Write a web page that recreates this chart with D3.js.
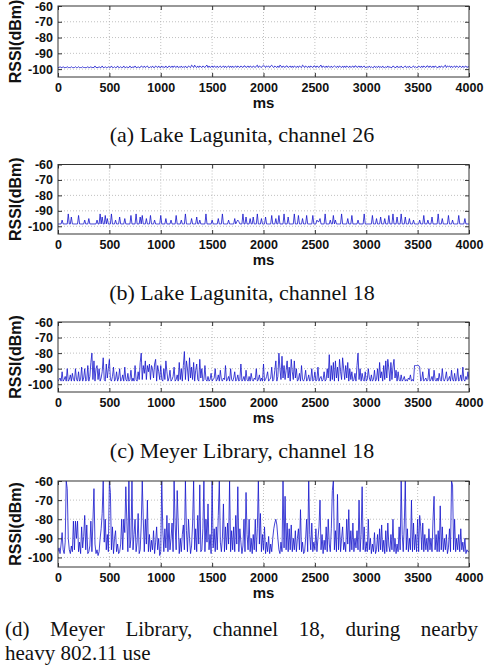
<!DOCTYPE html>
<html><head><meta charset="utf-8">
<script src="https://cdn.jsdelivr.net/npm/d3@7"></script>
<style>body{margin:0;background:#fff}svg{display:block}</style>
</head><body>
<svg id="c" width="484" height="668"></svg>
<script>
// ---- data (RSSI in dBm, one sample every 10 ms, 0..4000 ms) ----
const xTicks = [0,500,1000,1500,2000,2500,3000,3500,4000];
const yTicks = [-100,-90,-80,-70,-60];
const captions = ["(a) Lake Lagunita, channel 26","(b) Lake Lagunita, channel 18","(c) Meyer Library, channel 18","(d) Meyer Library, channel 18, during nearby heavy 802.11 use"];

const rssiA = [
-99,-99,-98.5,-99,-99,-98.5,-99,-99,-99,-98.5,
-99,-99,-99,-98.5,-99,-99,-99,-98.5,-99,-99,
-98.5,-99,-99,-99,-98.5,-99,-99,-99,-99,-98.5,
-99,-99,-98.5,-99,-99,-99,-98,-99,-99,-99,
-98.5,-99,-99,-98,-99,-99,-98.5,-99,-99,-98.5,
-99,-99,-98,-99,-99,-98.5,-99,-99,-98,-99,
-99,-98.5,-99,-99,-98,-99,-99,-98.5,-99,-99,
-98,-99,-99,-98.5,-99,-98,-99,-99,-98.5,-99,
-99,-98,-98.5,-99,-98,-99,-98.5,-98,-99,-99,
-98.5,-99,-98,-99,-99,-98,-98.5,-99,-98,-99,
-99,-98,-99,-98.5,-99,-98,-99,-99,-98,-98.5,
-99,-98,-99,-98,-98.5,-99,-98,-99,-98.5,-99,
-98,-99,-98.5,-99,-98,-99,-99,-98,-98.5,-99,
-97.5,-98,-99,-97.5,-98.5,-99,-98,-99,-98,-98.5,
-99,-98,-98.5,-99,-98,-97.5,-99,-98,-99,-98.5,
-98,-99,-98,-98.5,-99,-98,-99,-98.5,-98,-99,
-98.5,-98,-99,-98,-99,-98.5,-98,-99,-98,-99,
-98,-99,-98.5,-98,-99,-98,-98.5,-99,-98,-98.5,
-99,-98,-98,-99,-98.5,-98,-99,-98,-98.5,-99,
-98,-98.5,-99,-98,-97.5,-99,-98,-98.5,-99,-98,
-97.5,-98,-99,-98,-98.5,-98,-99,-98,-97.5,-98.5,
-99,-98,-98.5,-99,-98,-99,-97.5,-98,-99,-98,
-98.5,-99,-98,-98,-99,-98.5,-98,-99,-98,-99,
-98,-98.5,-99,-98,-99,-98,-98.5,-99,-97.5,-98,
-99,-98,-98.5,-99,-98,-99,-98,-98.5,-99,-98,
-98,-99,-98,-98.5,-99,-98,-97.5,-99,-98,-98.5,
-99,-98,-99,-98,-98.5,-99,-98,-99,-98.5,-98,
-98.5,-99,-98,-99,-98,-98.5,-99,-98,-99,-98,
-99,-98,-98.5,-99,-98,-99,-98.5,-98,-99,-98,
-98,-99,-98.5,-98,-99,-98,-99,-98.5,-98,-99,
-99,-98.5,-99,-98,-99,-98.5,-99,-99,-98,-99,
-98.5,-99,-98,-99,-98.5,-99,-98,-99,-99,-98.5,
-99,-98,-99,-98.5,-99,-99,-98,-98.5,-99,-99,
-98,-99,-98.5,-99,-98,-99,-99,-98.5,-98,-99,
-98.5,-99,-98,-99,-99,-98.5,-98,-99,-98.5,-99,
-99,-98,-98.5,-99,-98,-99,-98,-98.5,-99,-98,
-98,-99,-98,-98.5,-99,-98,-99,-98,-98.5,-99,
-99,-98,-99,-98,-98.5,-99,-98,-97.5,-99,-98,
-98.5,-98,-99,-98,-99,-98.5,-98,-99,-98,-98.5,
-99,-98,-98.5,-99,-98,-99,-98.5,-98,-99,-98.5,
-98.5];

const rssiB = [
-98.5,-98.5,-98.5,-98.5,-96,-98.5,-98.5,-98.5,-98.5,-98.5,
-92,-98.5,-98.5,-94,-98.5,-98.5,-98.5,-98.5,-98.5,-98.5,
-93,-98.5,-98.5,-98.5,-98.5,-98.5,-96,-98.5,-98.5,-98.5,
-95,-98.5,-98.5,-98.5,-98.5,-98.5,-98.5,-98.5,-96,-98.5,
-98.5,-92,-98.5,-94,-98.5,-98.5,-93,-98.5,-95,-98.5,
-98.5,-98.5,-92,-98.5,-98.5,-98.5,-96,-98.5,-98.5,-98.5,
-94,-98.5,-98.5,-98.5,-98.5,-95,-98.5,-98.5,-98.5,-98.5,
-98.5,-93,-98.5,-98.5,-98.5,-98.5,-92,-98.5,-98.5,-98.5,
-94,-98.5,-93,-98.5,-98.5,-98.5,-95,-98.5,-98.5,-98.5,
-93,-98.5,-98.5,-98.5,-96,-98.5,-98.5,-98.5,-98.5,-98.5,
-93,-98.5,-98.5,-98.5,-98.5,-95,-98.5,-98.5,-98.5,-98.5,
-96,-98.5,-98.5,-98.5,-98.5,-93,-98.5,-98.5,-98.5,-98.5,
-96,-98.5,-98.5,-98.5,-92,-98.5,-98.5,-98.5,-98.5,-98.5,
-95,-98.5,-98.5,-98.5,-98.5,-94,-98.5,-98.5,-96,-98.5,
-98.5,-98.5,-98.5,-98.5,-92,-98.5,-98.5,-98.5,-98.5,-98.5,
-96,-98.5,-98.5,-98.5,-98.5,-98.5,-95,-98.5,-98.5,-98.5,
-92,-98.5,-98.5,-98.5,-98.5,-98.5,-96,-98.5,-98.5,-98.5,
-98.5,-98.5,-95,-98.5,-97,-96,-97,-98.5,-98.5,-98.5,
-92,-98.5,-98.5,-94,-98.5,-98.5,-98.5,-95,-98.5,-98.5,
-94,-98.5,-98.5,-98.5,-92,-98.5,-98.5,-98.5,-95,-98.5,
-98.5,-98.5,-94,-98.5,-98.5,-98.5,-98.5,-98.5,-93,-98.5,
-98.5,-98.5,-95,-98.5,-98.5,-93,-98.5,-98.5,-98.5,-98.5,
-92,-98.5,-98.5,-98.5,-94,-98.5,-98.5,-98.5,-98.5,-98.5,
-92,-98.5,-98.5,-98.5,-93,-98.5,-98.5,-98.5,-95,-98.5,
-98.5,-98.5,-93,-98.5,-98.5,-98.5,-98.5,-98.5,-93,-98.5,
-98.5,-98.5,-96,-97,-97,-95,-98.5,-98.5,-98.5,-98.5,
-92,-98.5,-98.5,-98.5,-98.5,-96,-98.5,-98.5,-93,-98.5,
-96,-98.5,-98.5,-98.5,-98.5,-98.5,-92,-98.5,-98.5,-98.5,
-98.5,-98.5,-95,-98.5,-98.5,-98.5,-93,-98.5,-98.5,-98.5,
-98.5,-98.5,-96,-98.5,-98.5,-98.5,-98.5,-98.5,-92,-98.5,
-98.5,-98.5,-98.5,-98.5,-98.5,-98.5,-93,-98.5,-98.5,-98.5,
-95,-98.5,-98.5,-98.5,-94,-98.5,-98.5,-98.5,-95,-98.5,
-98.5,-98.5,-93,-98.5,-98.5,-98.5,-92,-98.5,-98.5,-98.5,
-94,-98.5,-98.5,-98.5,-92,-98.5,-98.5,-98.5,-94,-98.5,
-98.5,-98.5,-95,-98.5,-98.5,-98.5,-96,-98.5,-98.5,-98.5,
-98.5,-98.5,-96,-98.5,-98.5,-98.5,-93,-98.5,-98.5,-98.5,
-96,-98.5,-98.5,-98.5,-94,-98.5,-98.5,-98.5,-98.5,-98.5,
-92,-98.5,-98.5,-98.5,-95,-98.5,-98.5,-98.5,-98.5,-98.5,
-93,-98.5,-98.5,-98.5,-96,-98.5,-98.5,-98.5,-98.5,-98.5,
-93,-98.5,-98.5,-98.5,-98.5,-98.5,-95,-98.5,-98.5,-98.5,
-98.5];

const rssiC = [
-98,-97,-96,-98,-92,-98,-97,-95,-98,-90,
-98,-97,-94,-98,-93,-97,-98,-90,-97,-98,
-92,-98,-97,-89,-98,-96,-90,-98,-97,-88,
-98,-95,-86,-80,-97,-85,-98,-90,-88,-97,
-90,-98,-96,-92,-83,-97,-98,-87,-96,-90,
-84,-97,-98,-95,-89,-98,-97,-92,-98,-96,
-90,-98,-97,-94,-98,-89,-97,-98,-93,-98,
-97,-91,-98,-96,-98,-88,-97,-98,-92,-97,
-86,-80,-97,-88,-93,-85,-97,-88,-92,-87,
-97,-88,-90,-96,-87,-84,-98,-88,-92,-97,
-88,-97,-98,-90,-97,-85,-92,-98,-96,-91,
-98,-97,-95,-89,-98,-97,-94,-98,-86,-97,
-90,-98,-88,-79,-97,-85,-90,-98,-83,-96,
-89,-97,-86,-98,-91,-87,-97,-98,-84,-96,
-90,-98,-97,-88,-97,-98,-95,-98,-97,-93,
-98,-97,-96,-90,-98,-97,-94,-98,-91,-97,
-98,-96,-97,-88,-98,-97,-95,-98,-90,-97,
-98,-96,-92,-98,-97,-94,-98,-97,-87,-98,
-97,-95,-98,-91,-97,-98,-95,-98,-93,-97,
-98,-96,-97,-90,-98,-97,-94,-98,-96,-98,
-87,-98,-97,-95,-92,-98,-97,-96,-89,-98,
-97,-91,-85,-98,-95,-80,-90,-97,-82,-96,
-88,-97,-91,-85,-96,-89,-98,-84,-92,-97,
-85,-96,-90,-98,-97,-93,-98,-88,-97,-98,
-96,-91,-98,-97,-94,-98,-97,-90,-98,-97,
-92,-98,-97,-89,-98,-96,-95,-98,-97,-92,
-98,-97,-90,-96,-81,-98,-88,-97,-86,-98,
-85,-96,-89,-98,-84,-92,-97,-83,-90,-97,
-88,-96,-86,-98,-90,-97,-92,-98,-97,-93,
-98,-88,-80,-97,-90,-98,-93,-97,-98,-92,
-98,-97,-90,-96,-98,-94,-98,-97,-91,-98,
-97,-90,-98,-86,-96,-92,-98,-88,-97,-85,
-96,-84,-90,-98,-86,-97,-89,-84,-96,-91,
-98,-92,-97,-98,-94,-98,-97,-95,-98,-97,
-98,-96,-97,-94,-98,-97,-98,-88,-88,-88,
-88,-88,-89,-98,-97,-92,-98,-97,-96,-98,
-97,-90,-98,-97,-95,-98,-91,-97,-98,-96,
-98,-93,-97,-98,-90,-97,-98,-96,-92,-98,
-97,-95,-98,-91,-97,-98,-93,-98,-97,-90,
-98,-97,-94,-98,-89,-97,-98,-95,-97,-92,
-97];

const rssiD = [
-97,-95,-98,-93,-87,-96,-98,-92,-60,-64,
-90,-96,-98,-94,-97,-81,-96,-81,-90,-81,
-97,-92,-98,-84,-95,-89,-78,-96,-83,-98,
-97,-94,-81,-97,-81,-64,-93,-98,-96,-99,
-97,-90,-85,-77,-60,-92,-80,-96,-88,-97,
-60,-66,-96,-84,-98,-90,-86,-97,-93,-98,
-97,-93,-80,-96,-80,-87,-63,-81,-97,-60,
-95,-90,-60,-96,-88,-80,-97,-92,-77,-98,
-96,-83,-60,-80,-97,-80,-93,-70,-97,-88,
-97,-91,-96,-86,-98,-92,-84,-96,-90,-99,
-97,-60,-86,-97,-85,-95,-78,-97,-82,-96,
-90,-82,-97,-60,-83,-96,-65,-82,-98,-90,
-97,-88,-83,-96,-60,-86,-97,-80,-90,-98,
-94,-82,-60,-96,-85,-97,-78,-93,-62,-97,
-96,-85,-60,-97,-80,-92,-72,-96,-88,-98,
-60,-95,-85,-97,-84,-96,-78,-60,-92,-97,
-90,-72,-97,-84,-96,-82,-93,-60,-97,-86,
-96,-84,-97,-78,-93,-63,-97,-85,-92,-98,
-94,-80,-97,-66,-88,-96,-80,-97,-90,-98,
-88,-96,-80,-97,-85,-60,-93,-77,-97,-88,
-96,-84,-98,-92,-97,-89,-98,-93,-97,-90,
-85,-82,-80,-83,-90,-96,-98,-92,-97,-60,
-95,-68,-96,-82,-97,-85,-96,-83,-97,-90,
-96,-86,-97,-90,-85,-96,-75,-97,-92,-98,
-97,-90,-80,-97,-60,-88,-96,-82,-97,-92,
-96,-85,-97,-90,-84,-70,-96,-88,-98,-91,
-96,-84,-97,-80,-93,-97,-85,-65,-60,-96,
-86,-97,-67,-96,-82,-97,-90,-84,-96,-92,
-97,-80,-93,-75,-97,-86,-96,-82,-97,-90,
-95,-86,-96,-70,-97,-88,-63,-96,-84,-97,
-92,-97,-80,-96,-90,-98,-93,-97,-87,-98,
-96,-88,-97,-85,-96,-83,-97,-91,-98,-86,
-97,-82,-94,-97,-88,-96,-80,-97,-90,-98,
-93,-97,-84,-96,-60,-88,-97,-83,-60,-96,
-85,-97,-90,-96,-70,-97,-82,-96,-88,-97,
-80,-97,-78,-84,-96,-82,-97,-88,-96,-90,
-97,-85,-96,-90,-97,-80,-68,-96,-88,-97,
-86,-97,-73,-96,-84,-97,-90,-96,-88,-98,
-95,-85,-97,-60,-62,-96,-80,-97,-90,-96,
-88,-97,-85,-96,-92,-97,-90,-98,-96,-97,
-97];

const series = [rssiA, rssiB, rssiC, rssiD];
const sampleMs = 10;

// ---- layout ----
const W = 484, H = 668;
const left = 58, right = 469;
const panels = [
  {top: 6, bottom: 77, cap: 142},
  {top: 164.5, bottom: 234, cap: 300},
  {top: 322, bottom: 392, cap: 458},
  {top: 481, bottom: 567, cap: 636}
];

const svg = d3.select("#c");
svg.append("rect").attr("width", W).attr("height", H).attr("fill", "#fff");

const x = d3.scaleLinear().domain([0, 4000]).range([left, right]);
const plain = d => String(d);

panels.forEach((p, k) => {
  const y = d3.scaleLinear().domain([-105, -60]).range([p.bottom, p.top]);
  const g = svg.append("g");
  const clipId = "clip" + k;
  svg.append("clipPath").attr("id", clipId).append("rect")
    .attr("x", left).attr("y", p.top).attr("width", right - left).attr("height", p.bottom - p.top);

  // grid
  g.append("g").selectAll("line").data(xTicks.slice(1, -1)).join("line")
    .attr("x1", d => x(d)).attr("x2", d => x(d)).attr("y1", p.top).attr("y2", p.bottom)
    .attr("stroke", "#b0b0b0").attr("stroke-width", 0.8).attr("stroke-dasharray", "1,2");
  g.append("g").selectAll("line").data(yTicks.slice(0, -1)).join("line")
    .attr("x1", left).attr("x2", right).attr("y1", d => y(d)).attr("y2", d => y(d))
    .attr("stroke", "#b0b0b0").attr("stroke-width", 0.8).attr("stroke-dasharray", "1,2");

  // data line
  const line = d3.line().x((d, i) => x(i * sampleMs)).y(d => y(d));
  g.append("path").datum(series[k]).attr("d", line)
    .attr("clip-path", `url(#${clipId})`)
    .attr("fill", "none").attr("stroke", "#1414cc").attr("stroke-width", 0.8)
    .attr("stroke-linejoin", "miter");

  // axes (inward ticks, box)
  const axB = d3.axisBottom(x).tickValues(xTicks).tickFormat(plain).tickSizeInner(-4).tickSizeOuter(0).tickPadding(6);
  const axT = d3.axisTop(x).tickValues(xTicks).tickSizeInner(-4).tickSizeOuter(0).tickFormat("");
  const axL = d3.axisLeft(y).tickValues(yTicks).tickFormat(plain).tickSizeInner(-4).tickSizeOuter(0).tickPadding(5);
  const axR = d3.axisRight(y).tickValues(yTicks).tickSizeInner(-4).tickSizeOuter(0).tickFormat("");
  const styleAx = sel => {
    sel.select(".domain").remove();
    sel.selectAll(".tick line").attr("stroke", "#333");
    sel.selectAll("text").attr("fill", "#111")
      .style("font-family", "'Liberation Sans', Arial, sans-serif")
      .style("font-weight", "bold").style("font-size", "12.5px");
  };
  g.append("g").attr("transform", `translate(0,${p.bottom})`).call(axB).call(styleAx)
    .selectAll("text").attr("dy", "0.71em");
  g.append("g").attr("transform", `translate(0,${p.top})`).call(axT).call(styleAx);
  g.append("g").attr("transform", `translate(${left},0)`).call(axL).call(styleAx);
  g.append("g").attr("transform", `translate(${right},0)`).call(axR).call(styleAx);
  g.append("rect").attr("x", left).attr("y", p.top).attr("width", right - left).attr("height", p.bottom - p.top)
    .attr("fill", "none").attr("stroke", "#333").attr("stroke-width", 1);

  // axis labels
  g.append("text").attr("x", (left + right) / 2).attr("y", p.bottom + 31)
    .attr("text-anchor", "middle").attr("fill", "#111")
    .style("font-family", "'Liberation Sans', Arial, sans-serif").style("font-weight", "bold").style("font-size", "15px")
    .text("ms");
  g.append("text").attr("transform", `translate(21,${(p.top + p.bottom) / 2}) rotate(-90)`)
    .attr("text-anchor", "middle").attr("fill", "#111")
    .style("font-family", "'Liberation Sans', Arial, sans-serif").style("font-weight", "bold").style("font-size", "16px")
    .text("RSSI(dBm)");

  // caption
  const capFont = (sel, size) => sel.attr("fill", "#111")
    .style("font-family", "'Liberation Serif', 'Times New Roman', serif").style("font-size", size + "px");
  if (k < 3) {
    svg.append("text").attr("x", W / 2).attr("y", p.cap).attr("text-anchor", "middle")
      .call(capFont, 22).text(captions[k]);
  } else {
    const words = captions[k].split(" ");
    const line1 = words.slice(0, 7), line2 = words.slice(7).join(" ");
    const x0 = 5, x1 = 478;
    const ws = line1.map(w => {
      const t = svg.append("text").attr("y", p.cap).call(capFont, 21).text(w);
      return {t, w: t.node().getComputedTextLength()};
    });
    const total = d3.sum(ws, d => d.w);
    const gap = (x1 - x0 - total) / (ws.length - 1);
    let cx = x0;
    ws.forEach(d => { d.t.attr("x", cx); cx += d.w + gap; });
    svg.append("text").attr("x", x0).attr("y", p.cap + 23.5).call(capFont, 21).text(line2);
  }
});
</script>
</body></html>
